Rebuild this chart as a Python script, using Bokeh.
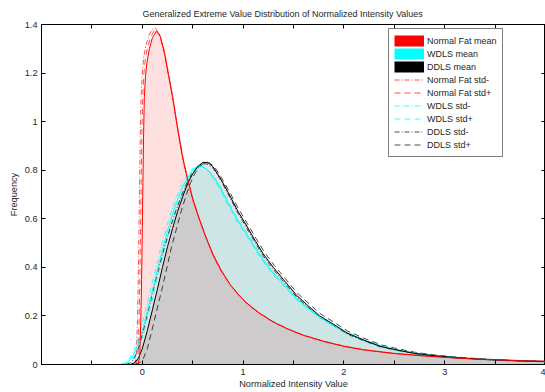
from bokeh.plotting import figure
from bokeh.models import Range1d, FixedTicker, LinearAxis, Legend, LegendItem
from bokeh.embed import file_html
from bokeh.resources import INLINE

TITLE = "Generalized Extreme Value Distribution of Normalized Intensity Values"
X_LABEL = "Normalized Intensity Value"
Y_LABEL = "Frequency"

X_MAJOR = [0, 1, 2, 3, 4]
X_MINOR = [-1, -0.5, 0.5, 1.5, 2.5, 3.5]
X_ALL = [-1, -0.5, 0, 0.5, 1, 1.5, 2, 2.5, 3, 3.5, 4]
Y_TICKS = [0, 0.2, 0.4, 0.6, 0.8, 1, 1.2, 1.4]
Y_TICK_LABELS = ["0", "0.2", "0.4", "0.6", "0.8", "1", "1.2", "1.4"]

# Normal Fat
NF_MEAN_X = [-0.04, -0.025, -0.015, -0.007, 0.0, 0.006, 0.013, 0.02, 0.032, 0.045, 0.07, 0.1, 0.14, 0.18, 0.22, 0.26, 0.3, 0.35, 0.4, 0.45, 0.5, 0.56, 0.63, 0.7, 0.78, 0.87, 0.95, 1.03, 1.15, 1.3, 1.45, 1.6, 1.8, 2.0, 2.2, 2.5, 2.8, 3.1, 3.4, 3.7, 4.0]
NF_MEAN_Y = [0.0, 0.04, 0.18, 0.35, 0.56, 0.75, 0.95, 1.1, 1.19, 1.24, 1.3, 1.345, 1.372, 1.35, 1.28, 1.19, 1.1, 0.97, 0.85, 0.76, 0.68, 0.605, 0.525, 0.455, 0.39, 0.33, 0.29, 0.255, 0.215, 0.175, 0.145, 0.12, 0.095, 0.075, 0.06, 0.045, 0.035, 0.027, 0.021, 0.016, 0.013]
NF_STDM_X = [-0.075, -0.06, -0.048, -0.04, -0.033, -0.027, -0.02, -0.012, 0.0, 0.015, 0.04, 0.07, 0.1, 0.13, 0.17, 0.22, 0.26, 0.3, 0.35, 0.4, 0.45, 0.5, 0.56, 0.63, 0.7, 0.78, 0.87, 0.95, 1.03, 1.15, 1.3, 1.45, 1.6, 1.8, 2.0, 2.2, 2.5, 2.8, 3.1, 3.4, 3.7, 4.0]
NF_STDM_Y = [0.0, 0.04, 0.18, 0.35, 0.56, 0.75, 0.95, 1.1, 1.2, 1.27, 1.32, 1.36, 1.38, 1.385, 1.36, 1.29, 1.2, 1.11, 0.98, 0.86, 0.765, 0.685, 0.605, 0.525, 0.45, 0.385, 0.328, 0.288, 0.253, 0.213, 0.174, 0.144, 0.12, 0.095, 0.075, 0.06, 0.046, 0.035, 0.027, 0.021, 0.016, 0.013]
NF_STDP_X = [-0.058, -0.042, -0.032, -0.024, -0.017, -0.011, -0.004, 0.004, 0.016, 0.03, 0.055, 0.085, 0.125, 0.17, 0.22, 0.26, 0.3, 0.35, 0.4, 0.45, 0.5, 0.56, 0.63, 0.7, 0.78, 0.87, 0.95, 1.03, 1.15, 1.3, 1.45, 1.6, 1.8, 2.0, 2.2, 2.5, 2.8, 3.1, 3.4, 3.7, 4.0]
NF_STDP_Y = [0.0, 0.04, 0.18, 0.35, 0.56, 0.75, 0.95, 1.1, 1.2, 1.26, 1.31, 1.35, 1.38, 1.36, 1.285, 1.195, 1.105, 0.975, 0.855, 0.765, 0.685, 0.607, 0.527, 0.452, 0.388, 0.33, 0.29, 0.255, 0.215, 0.176, 0.146, 0.121, 0.096, 0.076, 0.061, 0.046, 0.036, 0.028, 0.022, 0.017, 0.013]

# WDLS
WD_MEAN_X = [-0.2, -0.15, -0.1, -0.05, 0.0, 0.05, 0.1, 0.15, 0.2, 0.25, 0.3, 0.35, 0.4, 0.45, 0.5, 0.55, 0.6, 0.65, 0.7, 0.77, 0.85, 0.95, 1.03, 1.12, 1.2, 1.3, 1.4, 1.53, 1.65, 1.76, 1.9, 2.03, 2.2, 2.36, 2.5, 2.7, 2.9, 3.1, 3.3, 3.5, 3.75, 4.0]
WD_MEAN_Y = [0.0, 0.008, 0.03, 0.075, 0.14, 0.22, 0.305, 0.39, 0.475, 0.55, 0.62, 0.68, 0.73, 0.77, 0.8, 0.815, 0.815, 0.8, 0.775, 0.73, 0.665, 0.59, 0.54, 0.48, 0.43, 0.375, 0.33, 0.27, 0.23, 0.195, 0.16, 0.13, 0.1, 0.077, 0.062, 0.047, 0.036, 0.029, 0.023, 0.019, 0.015, 0.012]
WD_STDM_X = [-0.22, -0.17, -0.12, -0.07, -0.02, 0.03, 0.08, 0.13, 0.18, 0.23, 0.28, 0.33, 0.38, 0.43, 0.48, 0.53, 0.58, 0.64, 0.7, 0.77, 0.85, 0.95, 1.03, 1.12, 1.2, 1.3, 1.4, 1.53, 1.65, 1.76, 1.9, 2.03, 2.2, 2.36, 2.5, 2.7, 2.9, 3.1, 3.3, 3.5, 3.75, 4.0]
WD_STDM_Y = [0.0, 0.008, 0.03, 0.075, 0.14, 0.22, 0.305, 0.39, 0.475, 0.55, 0.62, 0.68, 0.73, 0.77, 0.8, 0.815, 0.818, 0.805, 0.78, 0.737, 0.672, 0.597, 0.547, 0.487, 0.436, 0.38, 0.335, 0.274, 0.233, 0.198, 0.162, 0.132, 0.102, 0.078, 0.063, 0.048, 0.037, 0.03, 0.024, 0.019, 0.015, 0.012]
WD_STDP_X = [-0.18, -0.13, -0.08, -0.03, 0.02, 0.07, 0.12, 0.17, 0.22, 0.27, 0.32, 0.37, 0.42, 0.47, 0.52, 0.57, 0.62, 0.66, 0.7, 0.77, 0.85, 0.95, 1.03, 1.12, 1.2, 1.3, 1.4, 1.53, 1.65, 1.76, 1.9, 2.03, 2.2, 2.36, 2.5, 2.7, 2.9, 3.1, 3.3, 3.5, 3.75, 4.0]
WD_STDP_Y = [0.0, 0.008, 0.03, 0.075, 0.14, 0.22, 0.305, 0.39, 0.475, 0.55, 0.62, 0.68, 0.73, 0.77, 0.8, 0.812, 0.81, 0.795, 0.77, 0.723, 0.658, 0.583, 0.533, 0.473, 0.424, 0.37, 0.325, 0.266, 0.227, 0.192, 0.158, 0.128, 0.099, 0.076, 0.061, 0.046, 0.035, 0.028, 0.022, 0.018, 0.014, 0.011]

# DDLS
DD_MEAN_X = [-0.12, -0.08, -0.04, 0.0, 0.05, 0.1, 0.15, 0.2, 0.25, 0.3, 0.35, 0.4, 0.45, 0.5, 0.55, 0.6, 0.65, 0.7, 0.77, 0.85, 0.95, 1.03, 1.12, 1.2, 1.3, 1.4, 1.53, 1.65, 1.76, 1.9, 2.03, 2.2, 2.36, 2.5, 2.7, 2.9, 3.1, 3.3, 3.5, 3.75, 4.0]
DD_MEAN_Y = [0.0, 0.006, 0.025, 0.065, 0.14, 0.225, 0.31, 0.4, 0.485, 0.56, 0.63, 0.69, 0.745, 0.785, 0.815, 0.832, 0.832, 0.815, 0.77, 0.71, 0.63, 0.575, 0.51, 0.455, 0.4, 0.35, 0.285, 0.24, 0.2, 0.165, 0.13, 0.1, 0.075, 0.062, 0.046, 0.036, 0.029, 0.023, 0.019, 0.015, 0.012]
DD_STDM_X = [-0.16, -0.12, -0.08, -0.04, 0.01, 0.06, 0.11, 0.165, 0.22, 0.275, 0.33, 0.385, 0.44, 0.49, 0.54, 0.59, 0.64, 0.7, 0.77, 0.85, 0.95, 1.03, 1.12, 1.2, 1.3, 1.4, 1.53, 1.65, 1.76, 1.9, 2.03, 2.2, 2.36, 2.5, 2.7, 2.9, 3.1, 3.3, 3.5, 3.75, 4.0]
DD_STDM_Y = [0.0, 0.006, 0.025, 0.065, 0.14, 0.225, 0.31, 0.4, 0.485, 0.56, 0.63, 0.69, 0.745, 0.785, 0.812, 0.826, 0.826, 0.81, 0.765, 0.703, 0.622, 0.566, 0.502, 0.447, 0.392, 0.342, 0.279, 0.234, 0.195, 0.16, 0.126, 0.097, 0.073, 0.06, 0.045, 0.035, 0.028, 0.022, 0.018, 0.014, 0.011]
DD_STDP_X = [-0.07, -0.03, 0.01, 0.05, 0.095, 0.145, 0.195, 0.245, 0.29, 0.34, 0.385, 0.43, 0.475, 0.52, 0.565, 0.615, 0.665, 0.715, 0.78, 0.86, 0.96, 1.04, 1.13, 1.21, 1.31, 1.41, 1.54, 1.66, 1.77, 1.91, 2.04, 2.21, 2.37, 2.51, 2.71, 2.91, 3.11, 3.31, 3.51, 3.76, 4.0]
DD_STDP_Y = [0.0, 0.006, 0.025, 0.065, 0.14, 0.225, 0.31, 0.4, 0.485, 0.56, 0.63, 0.69, 0.745, 0.785, 0.815, 0.83, 0.83, 0.815, 0.773, 0.715, 0.637, 0.582, 0.518, 0.463, 0.408, 0.358, 0.293, 0.248, 0.208, 0.172, 0.137, 0.106, 0.081, 0.067, 0.05, 0.039, 0.031, 0.025, 0.02, 0.016, 0.013]

FONT = "Liberation Sans"
LEG_FONT = "Arial"
FS = "9px"
FS_AX = "9.2px"
TXT = "#262626"

p = figure(width=545, height=392, output_backend="svg", toolbar_location=None,
           x_range=Range1d(-1, 4), y_range=Range1d(0, 1.4),
           min_border_left=41, min_border_right=0, min_border_top=24, min_border_bottom=28,
           x_axis_label=X_LABEL, y_axis_label=Y_LABEL)
p.background_fill_color = "white"
p.border_fill_color = "white"
p.outline_line_color = "black"
p.xgrid.visible = False
p.ygrid.visible = False
# off-screen range used only by the legend swatches
p.extra_y_ranges = {"legend_only": Range1d(10, 11)}

p.title.text = TITLE
p.title.text_font = FONT
p.title.text_font_size = FS
p.title.text_font_style = "normal"
p.title.text_color = TXT
p.title.align = "left"
p.title.offset = 101
p.title.standoff = 12


def style_axis(ax):
    for kind in ("major", "minor"):
        setattr(ax, kind + "_tick_in", 4)
        setattr(ax, kind + "_tick_out", 0)
        setattr(ax, kind + "_tick_line_color", "black")
    ax.axis_line_color = "black"
    ax.major_label_text_font = FONT
    ax.major_label_text_font_size = FS_AX
    ax.major_label_text_color = TXT
    ax.axis_label_text_font = FONT
    ax.axis_label_text_font_size = FS_AX
    ax.axis_label_text_font_style = "normal"
    ax.axis_label_text_color = TXT


xa = p.xaxis[0]
xa.ticker = FixedTicker(ticks=X_MAJOR, minor_ticks=X_MINOR)
style_axis(xa)
xa.major_label_standoff = 4
xa.axis_label_standoff = 1

ya = p.yaxis[0]
ya.ticker = FixedTicker(ticks=Y_TICKS)
ya.major_label_overrides = {t: l for t, l in zip(Y_TICKS, Y_TICK_LABELS)}
style_axis(ya)
ya.minor_tick_line_color = None
ya.major_label_standoff = 4
ya.axis_label_standoff = 3

top_ax = LinearAxis(ticker=FixedTicker(ticks=[], minor_ticks=X_ALL))
style_axis(top_ax)
top_ax.major_label_standoff = 0
p.add_layout(top_ax, "above")
right_ax = LinearAxis(ticker=FixedTicker(ticks=[], minor_ticks=Y_TICKS))
style_axis(right_ax)
right_ax.major_label_standoff = 0
p.add_layout(right_ax, "right")

# filled areas
p.varea(x=NF_MEAN_X, y1=0, y2=NF_MEAN_Y, fill_color="red", fill_alpha=0.12)
p.varea(x=WD_MEAN_X, y1=0, y2=WD_MEAN_Y, fill_color="cyan", fill_alpha=0.1)
p.varea(x=DD_MEAN_X, y1=0, y2=DD_MEAN_Y, fill_color="black", fill_alpha=0.1)

DASHDOT = "5 2 1 2"
DASH = "6 4"

r_nf_m = p.line(NF_STDM_X, NF_STDM_Y, line_color="red", line_alpha=0.7, line_width=1, line_dash=DASHDOT)
r_nf_p = p.line(NF_STDP_X, NF_STDP_Y, line_color="red", line_alpha=0.7, line_width=1, line_dash=DASH)
r_wd_m = p.line(WD_STDM_X, WD_STDM_Y, line_color="cyan", line_alpha=0.8, line_width=1, line_dash=DASHDOT)
r_wd_p = p.line(WD_STDP_X, WD_STDP_Y, line_color="cyan", line_alpha=0.8, line_width=1, line_dash=DASH)
r_dd_m = p.line(DD_STDM_X, DD_STDM_Y, line_color="black", line_alpha=0.7, line_width=1, line_dash=DASHDOT)
r_dd_p = p.line(DD_STDP_X, DD_STDP_Y, line_color="black", line_alpha=0.7, line_width=1, line_dash=DASH)

p.line(WD_MEAN_X, WD_MEAN_Y, line_color="cyan", line_width=1)
p.line(DD_MEAN_X, DD_MEAN_Y, line_color="black", line_width=1)
p.line(NF_MEAN_X, NF_MEAN_Y, line_color="red", line_width=1)

# legend swatches for the mean areas (plotted on an off-screen range)
sw_nf = p.line(NF_MEAN_X, NF_MEAN_Y, y_range_name="legend_only", line_color="red", line_width=11)
sw_wd = p.line(WD_MEAN_X, WD_MEAN_Y, y_range_name="legend_only", line_color="cyan", line_width=11)
sw_dd = p.line(DD_MEAN_X, DD_MEAN_Y, y_range_name="legend_only", line_color="black", line_width=11)

legend = Legend(items=[
    LegendItem(label="Normal Fat mean", renderers=[sw_nf]),
    LegendItem(label="WDLS mean", renderers=[sw_wd]),
    LegendItem(label="DDLS mean", renderers=[sw_dd]),
    LegendItem(label="Normal Fat std-", renderers=[r_nf_m]),
    LegendItem(label="Normal Fat std+", renderers=[r_nf_p]),
    LegendItem(label="WDLS std-", renderers=[r_wd_m]),
    LegendItem(label="WDLS std+", renderers=[r_wd_p]),
    LegendItem(label="DDLS std-", renderers=[r_dd_m]),
    LegendItem(label="DDLS std+", renderers=[r_dd_p]),
], location=(347, 207))
legend.border_line_color = "black"
legend.border_line_width = 1
legend.background_fill_color = "white"
legend.background_fill_alpha = 1
legend.label_text_font = LEG_FONT
legend.label_text_font_size = FS
legend.label_text_color = TXT
legend.glyph_width = 30
legend.glyph_height = 13
legend.label_height = 13
legend.spacing = 0
legend.padding = 5
legend.margin = 0
legend.label_standoff = 3
p.add_layout(legend)

open("out.html", "w").write(file_html(p, INLINE))
